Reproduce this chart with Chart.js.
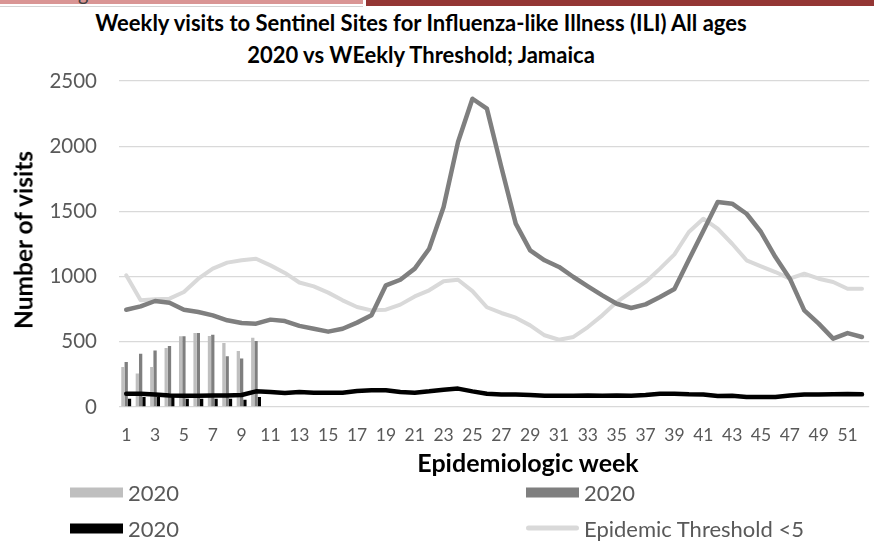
<!DOCTYPE html>
<html>
<head>
<meta charset="utf-8">
<script src="https://cdn.jsdelivr.net/npm/chart.js@4.4.1/dist/chart.umd.min.js"></script>
<style>
  html, body { margin: 0; padding: 0; background: #fff; }
  body { width: 874px; height: 545px; overflow: hidden; position: relative; font-family: Lato, "Open Sans", sans-serif; }
  #chart { position: absolute; left: 0; top: 0; }
  .band { position: absolute; top: 0; }
  #hdr { position: absolute; left: 0; top: 0; width: 363px; height: 5px; overflow: hidden; }
  #hdr span { position: absolute; left: 78px; top: -17px; font-size: 20px; line-height: 1; color: #404040; }
  #title { position: absolute; left: 0; top: 7px; width: 842px; text-align: center; font-weight: bold; font-size: 22px; line-height: 32px; color: #000; }
  #ytitle { position: absolute; left: 23px; top: 240px; transform: translate(-50%, -50%) rotate(-90deg); white-space: nowrap; font-weight: bold; font-size: 24.5px; color: #000; }
  #xtitle { position: absolute; left: 528px; top: 462px; transform: translate(-50%, -50%); white-space: nowrap; font-weight: bold; font-size: 25px; color: #000; }
  .lg { position: absolute; display: flex; align-items: center; font-size: 22px; color: #595959; white-space: nowrap; }
  .sw { width: 53px; margin-right: 5px; }
</style>
</head>
<body>
<div class="band" style="left:0;width:363px;height:4px;background:#D99594"></div>
<div style="position:absolute;left:0;top:6px;width:363px;height:1px;background:#d4d4d4"></div>
<div class="band" style="left:366px;width:508px;height:6px;background:#943634"></div>
<div id="hdr"><span>g</span></div>
<div id="title">Weekly visits to Sentinel Sites for Influenza-like Illness (ILI) All ages<br>2020 vs WEekly Threshold; Jamaica</div>
<canvas id="chart" width="880" height="545"></canvas>
<div id="ytitle">Number of visits</div>
<div id="xtitle">Epidemiologic week</div>
<div id="legend"></div>
<script>
// Epidemiologic weeks shown on the category axis
const weeks = ['1','2','3','4','5','6','7','8','9','10','11','12','13','14','15','16','17','18','19','20',
  '21','22','23','24','25','26','27','28','29','30','31','32','33','34','35','36','37','38','39','40',
  '41','42','43','44','45','46','47','48','49','50','51','52'];

// Weekly bars, weeks 1-10
const bars2020Light = [307, 256, 307, 452, 542, 567, 544, 491, 429, 532];
const bars2020Dark  = [345, 409, 434, 468, 542, 567, 555, 389, 371, 506];
const bars2020Black = [64, 77, 77, 77, 64, 64, 64, 64, 56, 77];

// Weekly visit curves, weeks 1-52
const visitsAllAges = [746, 772, 813, 800, 746, 728, 703, 665, 644, 639, 670, 659, 622, 600, 578, 600, 647, 703, 933, 976,
  1061, 1214, 1534, 2032, 2364, 2288, 1840, 1406, 1201, 1125, 1074, 997, 925, 856, 792, 759, 787, 843, 905, 1130,
  1350, 1572, 1559, 1482, 1342, 1150, 984, 741, 639, 524, 567, 537];
const visitsUnder5 = [102, 102, 95, 89, 87, 87, 89, 89, 92, 120, 115, 107, 115, 110, 110, 110, 123, 128, 128, 115,
  110, 120, 133, 141, 120, 102, 95, 95, 92, 87, 87, 87, 89, 87, 89, 87, 92, 102, 102, 97,
  95, 84, 87, 77, 77, 77, 89, 95, 95, 97, 100, 97];
const thresholdUnder5 = [1010, 818, 826, 831, 882, 984, 1061, 1107, 1125, 1137, 1086, 1028, 955, 925, 877, 818, 767, 741, 746, 785,
  848, 895, 964, 976, 889, 765, 721, 685, 626, 550, 516, 537, 613, 703, 805, 882, 959, 1061, 1170, 1342,
  1444, 1367, 1252, 1125, 1079, 1035, 984, 1022, 984, 959, 907, 907];

const yTicks = [0, 500, 1000, 1500, 2000, 2500];

const C_LIGHT = '#BFBFBF', C_DARK = '#7F7F7F', C_BLACK = '#000000', C_THRESH = '#D9D9D9';

const lineStyle = { type: 'line', pointRadius: 0, borderWidth: 4.5, tension: 0, borderJoinStyle: 'round', borderCapStyle: 'round', fill: false };

const datasets = [
  { type: 'bar', label: '2020', data: bars2020Light, backgroundColor: C_LIGHT, order: 5 },
  { type: 'bar', label: '2020', data: bars2020Dark, backgroundColor: C_DARK, order: 5 },
  { type: 'bar', label: '2020', data: bars2020Black, backgroundColor: C_BLACK, order: 5 },
  Object.assign({ label: 'Epidemic Threshold <5', data: thresholdUnder5, borderColor: C_THRESH, order: 3 }, lineStyle, { borderWidth: 4 }),
  Object.assign({ label: '2020 all ages', data: visitsAllAges, borderColor: C_DARK, order: 2 }, lineStyle),
  Object.assign({ label: '2020 <5', data: visitsUnder5, borderColor: C_BLACK, order: 1 }, lineStyle)
];

const tickColor = '#595959';

const chart = new Chart(document.getElementById('chart'), {
  data: { labels: weeks, datasets: datasets },
  options: {
    responsive: false,
    animation: false,
    layout: { padding: { top: 81, right: 2, bottom: 0, left: 0 } },
    plugins: { legend: { display: false }, title: { display: false }, tooltip: { enabled: false } },
    datasets: { bar: { categoryPercentage: 0.685, barPercentage: 1.0 } },
    scales: {
      x: {
        type: 'category',
        offset: true,
        grid: { display: false, drawTicks: false },
        border: { display: false },
        ticks: {
          autoSkip: false, maxRotation: 0, minRotation: 0, padding: 18,
          color: tickColor, font: { family: 'Lato', size: 17.5 },
          callback: function (v, i) { return i % 2 === 0 ? weeks[i] : ''; }
        },
        afterFit: function (s) { s.height = 545 - 407; }
      },
      y: {
        min: 0, max: 2500,
        afterBuildTicks: function (s) { s.ticks = yTicks.map(function (v) { return { value: v }; }); },
        grid: { color: C_THRESH, lineWidth: 1.3, drawTicks: false },
        border: { display: false },
        ticks: {
          padding: 22, color: tickColor, font: { family: 'Lato', size: 20.5 },
          callback: function (v) { return String(v); }
        },
        afterFit: function (s) { s.width = 119; }
      }
    }
  }
});

// Legend: two columns, two rows
const legendItems = [
  { ds: 0, left: 70, top: 492 },
  { ds: 1, left: 526, top: 492 },
  { ds: 2, left: 70, top: 528 },
  { ds: 3, left: 526, top: 528 }
];
const legendEl = document.getElementById('legend');
legendItems.forEach(function (it) {
  const d = datasets[it.ds];
  const row = document.createElement('div');
  row.className = 'lg';
  row.style.left = it.left + 'px';
  row.style.top = it.top + 'px';
  row.style.transform = 'translateY(-50%)';
  const sw = document.createElement('div');
  sw.className = 'sw';
  if (d.type === 'bar') {
    sw.style.height = '10px';
    sw.style.background = d.backgroundColor;
  } else {
    sw.style.height = '5px';
    sw.style.borderRadius = '3px';
    sw.style.background = d.borderColor;
  }
  const tx = document.createElement('span');
  tx.textContent = d.label;
  row.appendChild(sw);
  row.appendChild(tx);
  legendEl.appendChild(row);
});
</script>
</body>
</html>
